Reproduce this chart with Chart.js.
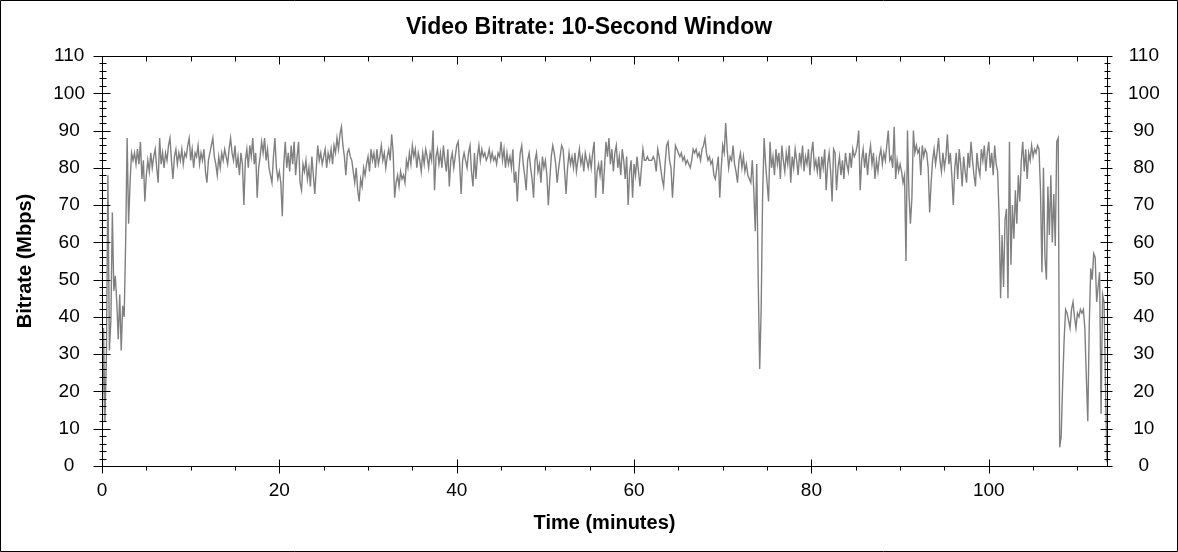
<!DOCTYPE html>
<html>
<head>
<meta charset="utf-8">
<script src="https://cdn.jsdelivr.net/npm/chart.js@4"></script>
<style>
  html, body { margin: 0; padding: 0; background: #fff; }
</style>
</head>
<body>
<canvas id="bitrate" width="1178" height="552"></canvas>
<script>
// one sample per 10-second window, values in Mbps
const stepMinutes = 1 / 6;
const bitrate = [
  2, 37, 12, 30, 78, 31,   39, 68, 47, 51, 44, 34,   46, 31, 43, 40, 60, 88,   65, 76, 84, 82, 84, 81,   85, 81, 87, 77, 82, 71,
  78, 82, 79, 84, 80, 83,  85, 80, 76, 88, 81, 84,   80, 84, 82, 86, 88, 82,   77, 83, 85, 81, 84, 82,   85, 81, 84, 83, 86, 88,
  82, 85, 80, 84, 83, 86,  81, 84, 82, 85, 79, 76,   82, 84, 86, 88, 83, 81,   78, 83, 80, 84, 82, 85,   83, 81, 85, 88, 84, 82,
  86, 80, 83, 78, 84, 81,  70, 82, 85, 80, 86, 83,   88, 81, 84, 72, 80, 83,   87, 84, 88, 82, 85, 80,   78, 76, 83, 88, 80, 77,
  79, 76, 67, 81, 87, 80,  84, 79, 86, 81, 87, 78,   83, 87, 76, 74, 81, 79,   82, 77, 80, 75, 83, 78,   73, 80, 86, 82, 84, 81,
  83, 85, 80, 84, 82, 85,  81, 86, 84, 88, 85, 89,   91, 86, 83, 78, 84, 85,   83, 82, 79, 76, 80, 74,   71, 77, 75, 80, 78, 81,
  83, 79, 85, 82, 84, 80,  85, 81, 83, 86, 82, 84,   80, 83, 85, 82, 89, 84,   72, 76, 78, 75, 79, 77,   78, 76, 82, 80, 84, 81,
  86, 83, 85, 80, 84, 82,  79, 84, 81, 85, 83, 80,   84, 82, 90, 74, 83, 85,   81, 84, 80, 86, 82, 79,   85, 75, 82, 84, 80, 83,
  86, 87, 81, 73, 82, 84,  82, 80, 84, 86, 79, 75,   84, 77, 83, 86, 82, 85,   83, 84, 82, 83, 85, 82,   84, 82, 83, 81, 84, 83,
  87, 82, 85, 80, 84, 81,  83, 80, 85, 76, 79, 71,   79, 84, 86, 81, 78, 74,   82, 84, 80, 77, 72, 82,   84, 79, 81, 76, 83, 80,
  82, 78, 70, 77, 83, 86,  84, 81, 76, 80, 83, 86,   85, 79, 73, 80, 84, 81,   83, 80, 84, 79, 82, 85,   81, 83, 79, 84, 82, 80,
  83, 80, 84, 87, 72, 79,  81, 78, 82, 73, 80, 87,   83, 88, 81, 85, 79, 84,   86, 80, 83, 78, 85, 82,   77, 83, 70, 79, 82, 72,
  81, 78, 83, 79, 75, 80,  85, 82, 82, 83, 82, 82,   82, 83, 82, 79, 85, 83,   80, 77, 75, 81, 86, 87,   82, 80, 72, 79, 86, 85,
  84, 83, 84, 82, 83, 81,  82, 81, 80, 82, 85, 84,   85, 83, 84, 82, 85, 86,   88, 84, 82, 83, 81, 82,   78, 77, 80, 83, 72, 80,
  86, 84, 92, 85, 80, 83,  82, 86, 81, 79, 76, 82,   84, 80, 83, 79, 81, 78,   77, 76, 82, 74, 63, 81,   50, 26, 42, 73, 88, 81,
  76, 71, 87, 80, 83, 78,  85, 81, 84, 77, 86, 82,   79, 84, 81, 86, 76, 83,   80, 85, 82, 78, 84, 81,   86, 79, 83, 81, 85, 78,
  84, 87, 80, 82, 79, 83,  77, 83, 80, 85, 74, 81,   84, 79, 71, 85, 84, 74,   80, 83, 78, 82, 77, 84,   81, 79, 84, 80, 85, 83,
  84, 86, 90, 74, 82, 85,  80, 84, 78, 83, 86, 81,   84, 77, 82, 79, 83, 85,   81, 84, 82, 86, 90, 82,   83, 80, 91, 77, 82, 79,
  81, 79, 76, 78, 55, 90,  73, 65, 72, 90, 84, 86,   84, 85, 78, 86, 83, 85,   84, 80, 68, 76, 82, 85,   81, 84, 88, 82, 79, 84,
  80, 83, 89, 81, 84, 78,  70, 80, 84, 77, 85, 81,   75, 83, 79, 76, 84, 80,   87, 82, 78, 75, 84, 80,   78, 85, 82, 86, 79, 84,
  87, 80, 84, 78, 86, 81,  79, 67, 45, 62, 48, 66,   69, 45, 87, 54, 70, 61,   74, 65, 78, 71, 82, 87,   79, 85, 77, 84, 82, 86,
  83, 85, 84, 86, 85, 74,  52, 80, 56, 50, 75, 62,   78, 60, 73, 59, 87, 88,   5, 8, 22, 34, 42, 41,      39, 37, 42, 44, 40, 37,
  41, 40, 42, 41, 42, 37,  24, 12, 38, 53, 50, 57,   56, 44, 48, 52, 14, 46,   44, 21, 1
];

const yMax = 110;
const yStep = 10;
const yMinorStep = 2;
const xStep = 20;
const xMinorStep = 5;
const xMax = (bitrate.length - 1) * stepMinutes;

const points = bitrate.map((v, i) => ({ x: i * stepMinutes, y: v }));

const font = 'Liberation Sans, Arial, sans-serif';

// draws the image border, the plot frame and the tick marks
const frameAndTicks = {
  id: 'frameAndTicks',
  afterDraw(chart) {
    const { ctx, chartArea: a } = chart;
    const xs = chart.scales.x, ys = chart.scales.y;
    const L = Math.round(a.left) + 0.5, R = Math.round(a.right) + 0.5;
    const T = Math.round(a.top) + 0.5, B = Math.round(a.bottom) + 0.5;
    ctx.save();
    ctx.strokeStyle = '#000';
    ctx.lineWidth = 1;
    ctx.beginPath();
    ctx.rect(0.5, 0.5, chart.width - 1, chart.height - 1);
    ctx.rect(L, T, R - L, B - T);
    for (let v = 0; v <= yMax; v += yMinorStep) {
      const p = Math.round(ys.getPixelForValue(v)) + 0.5;
      const major = v % yStep === 0;
      ctx.moveTo(L - (major ? 9 : 3), p); ctx.lineTo(L + (major ? 8 : 4), p);
      ctx.moveTo(R - (major ? 7 : 3), p); ctx.lineTo(R + (major ? 5 : 3), p);
    }
    for (let t = 0; t <= xMax; t += xMinorStep) {
      const p = Math.round(xs.getPixelForValue(t)) + 0.5;
      const major = t % xStep === 0;
      ctx.moveTo(p, B - (major ? 7 : 0)); ctx.lineTo(p, B + (major ? 7 : 4));
      ctx.moveTo(p, T); ctx.lineTo(p, T + (major ? 8 : 5));
    }
    ctx.stroke();
    ctx.restore();
  }
};

new Chart(document.getElementById('bitrate'), {
  type: 'line',
  data: {
    datasets: [{
      data: points,
      borderColor: 'rgb(128, 128, 128)',
      borderWidth: 1.4,
      pointRadius: 0,
      tension: 0
    }]
  },
  options: {
    responsive: false,
    animation: false,
    parsing: false,
    layout: { padding: 0 },
    plugins: {
      legend: { display: false },
      tooltip: { enabled: false },
      title: {
        display: true,
        text: 'Video Bitrate: 10-Second Window',
        color: '#000',
        font: { family: font, size: 23, weight: 'bold', lineHeight: 1 },
        padding: { top: 16, bottom: 17 }
      }
    },
    scales: {
      x: {
        type: 'linear',
        min: 0,
        max: xMax,
        grid: { display: false, drawTicks: false },
        border: { display: false },
        ticks: {
          stepSize: xStep,
          includeBounds: false,
          padding: 13,
          color: '#000',
          font: { family: font, size: 19 }
        },
        title: {
          display: true,
          text: 'Time (minutes)',
          color: '#000',
          font: { family: font, size: 20, weight: 'bold' },
          padding: { top: 0, bottom: 17 }
        },
        afterFit(s) { s.height = 86; }
      },
      y: {
        position: 'left',
        min: 0,
        max: yMax,
        grid: { display: false, drawTicks: false },
        border: { display: false },
        ticks: {
          stepSize: yStep,
          padding: 17,
          crossAlign: 'center',
          color: '#000',
          font: { family: font, size: 19 }
        },
        title: {
          display: true,
          text: 'Bitrate (Mbps)',
          color: '#000',
          font: { family: font, size: 20, weight: 'bold' },
          padding: { top: 13, bottom: 0 }
        },
        afterFit(s) { s.width = 102; }
      },
      y2: {
        position: 'right',
        min: 0,
        max: yMax,
        grid: { display: false, drawTicks: false },
        border: { display: false },
        ticks: {
          stepSize: yStep,
          padding: 21,
          crossAlign: 'center',
          color: '#000',
          font: { family: font, size: 19 }
        },
        afterFit(s) { s.width = 71; }
      }
    }
  },
  plugins: [frameAndTicks]
});
</script>
</body>
</html>
